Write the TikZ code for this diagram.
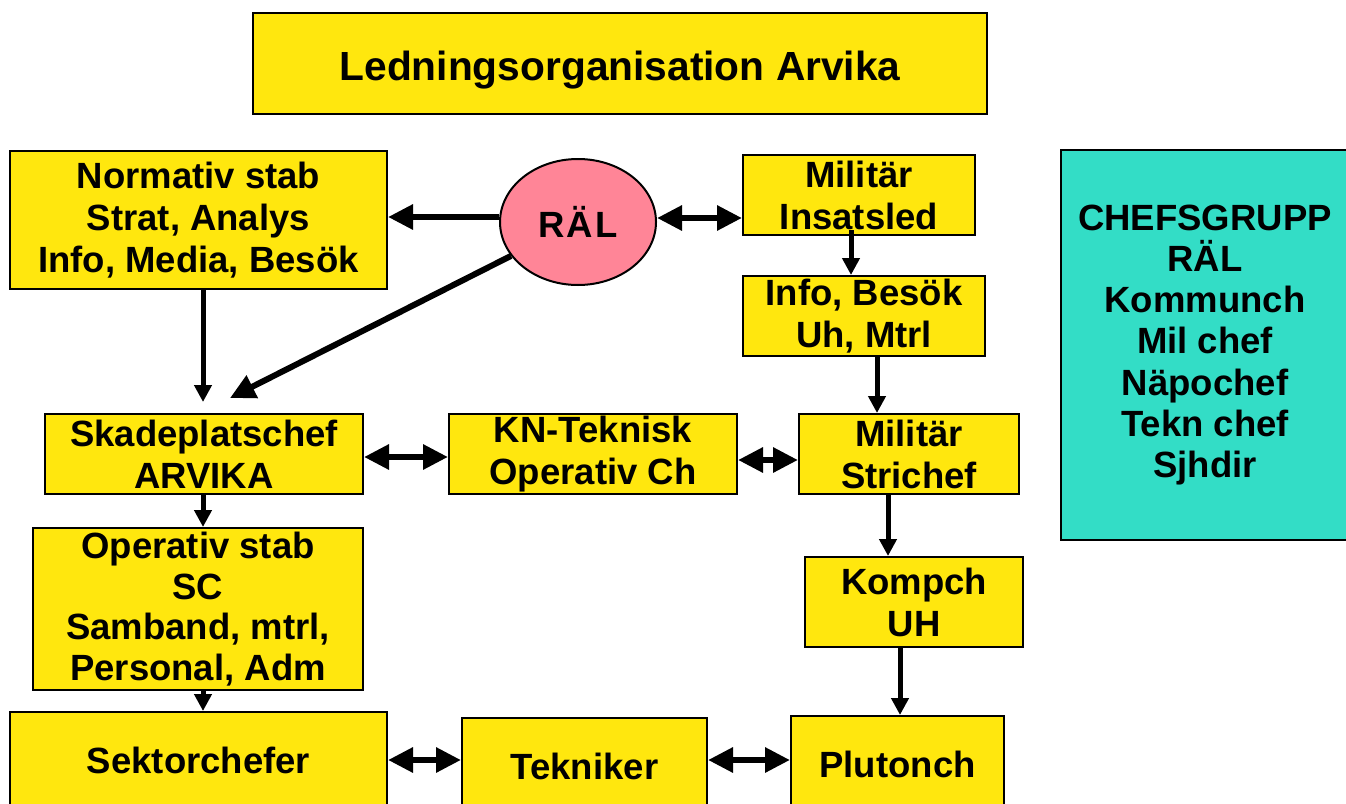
\documentclass[tikz,border=0pt]{standalone}
\usepackage{fontspec}
\setmainfont{Liberation Sans}
\usetikzlibrary{arrows.meta,shapes.geometric}
\definecolor{boxyellow}{HTML}{FFE70E}
\definecolor{ralpink}{HTML}{FF8597}
\definecolor{chefteal}{HTML}{33DDC6}
\tikzset{
  ybox/.style={draw=black, line width=2pt, fill=boxyellow, rectangle, inner sep=0pt, align=center,
    font=\fontsize{36.5}{42}\selectfont\bfseries},
  bigarr/.style={line width=6pt, -{Triangle[length=25pt,width=24pt]}},
  dblarr/.style={line width=6pt, {Triangle[length=25pt,width=24pt]}-{Triangle[length=25pt,width=24pt]}},
  smarr/.style={line width=5pt, -{Triangle[length=17pt,width=17pt]}},
}
\begin{document}
\begin{tikzpicture}[x=1pt,y=-1pt]
\useasboundingbox (0,0) rectangle (1346,803);
\clip (0,0) rectangle (1346,803);
% boxes
\node[ybox, minimum width=734pt, minimum height=101pt, text height=33pt, text depth=0pt, font=\fontsize{40.7}{46}\selectfont\bfseries] (title) at (620,63.5) {Ledningsorganisation Arvika};
\node[ybox, minimum width=377pt, minimum height=138pt] (norm) at (198.5,220) {Normativ stab\\Strat, Analys\\Info, Media, Besök};
\node[draw=black, line width=2pt, fill=ralpink, ellipse, inner sep=0pt, minimum width=156pt, minimum height=126pt,
  font=\fontsize{36.5}{42}\selectfont\bfseries] (ral) at (578,222) {R\kern2ptÄ\kern2ptL};
\node[ybox, minimum width=232pt, minimum height=80pt] (ins) at (859,195) {Militär\\Insatsled};
\node[ybox, minimum width=242pt, minimum height=80pt] (info) at (864,316) {Info, Besök\\Uh, Mtrl};
\node[ybox, minimum width=318pt, minimum height=80pt] (skade) at (204,454) {Skadeplatschef\\ARVIKA};
\node[ybox, minimum width=288pt, minimum height=80pt] (kn) at (593,454) {KN-Teknisk\\Operativ Ch};
\node[ybox, minimum width=220pt, minimum height=80pt] (strich) at (909,454) {Militär\\Strichef};
\node[ybox, minimum width=330pt, minimum height=162pt, font=\fontsize{36.5}{40.5}\selectfont\bfseries] (op) at (198,609) {Operativ stab\\SC\\Samband, mtrl,\\Personal, Adm};
\node[ybox, minimum width=218pt, minimum height=90pt] (komp) at (914,602) {Kompch\\UH};
\node[ybox, minimum width=377pt, minimum height=96pt] (sektor) at (198.5,760) {Sektorchefer};
\node[ybox, minimum width=245pt, minimum height=96pt] (tekn) at (584.5,766) {Tekniker};
\node[ybox, minimum width=213pt, minimum height=96pt] (pluton) at (897.5,764) {Plutonch};
\node[ybox, fill=chefteal, minimum width=288pt, minimum height=390pt, font=\fontsize{36.5}{41.3}\selectfont\bfseries] (chefs) at (1205,345)
  {CHEFSGRUPP\\RÄL\\Kommunch\\Mil chef\\Näpochef\\Tekn chef\\Sjhdir};
% connectors
\coordinate (skadetip) at (230,398);
\draw[bigarr] (ral.west |- 0,217) -- (norm.east |- 0,217);
\draw[dblarr] (ral.east |- 0,218) -- (ins.west |- 0,218);
\draw[bigarr] (ral) -- (skadetip);
\draw[smarr, shorten >=11pt] (norm.south -| 203,0) -- (skade.north -| 203,0);
\draw[smarr] (851,230) -- (info.north -| 851,0);
\draw[smarr] (info.south -| 877,0) -- (strich.north -| 877,0);
\draw[smarr] (skade.south -| 203,0) -- (op.north -| 203,0);
\draw[smarr] (strich.south -| 888,0) -- (komp.north -| 888,0);
\draw[smarr] (komp.south -| 900,0) -- (pluton.north -| 900,0);
\draw[smarr] (op.south -| 203,0) -- (sektor.north -| 203,0);
\draw[dblarr] (skade.east |- 0,457) -- (kn.west |- 0,457);
\draw[dblarr] (kn.east |- 0,460) -- (strich.west |- 0,460);
\draw[dblarr] (sektor.east |- 0,760) -- (tekn.west |- 0,760);
\draw[dblarr] (tekn.east |- 0,760) -- (pluton.west |- 0,760);
\end{tikzpicture}
\end{document}
